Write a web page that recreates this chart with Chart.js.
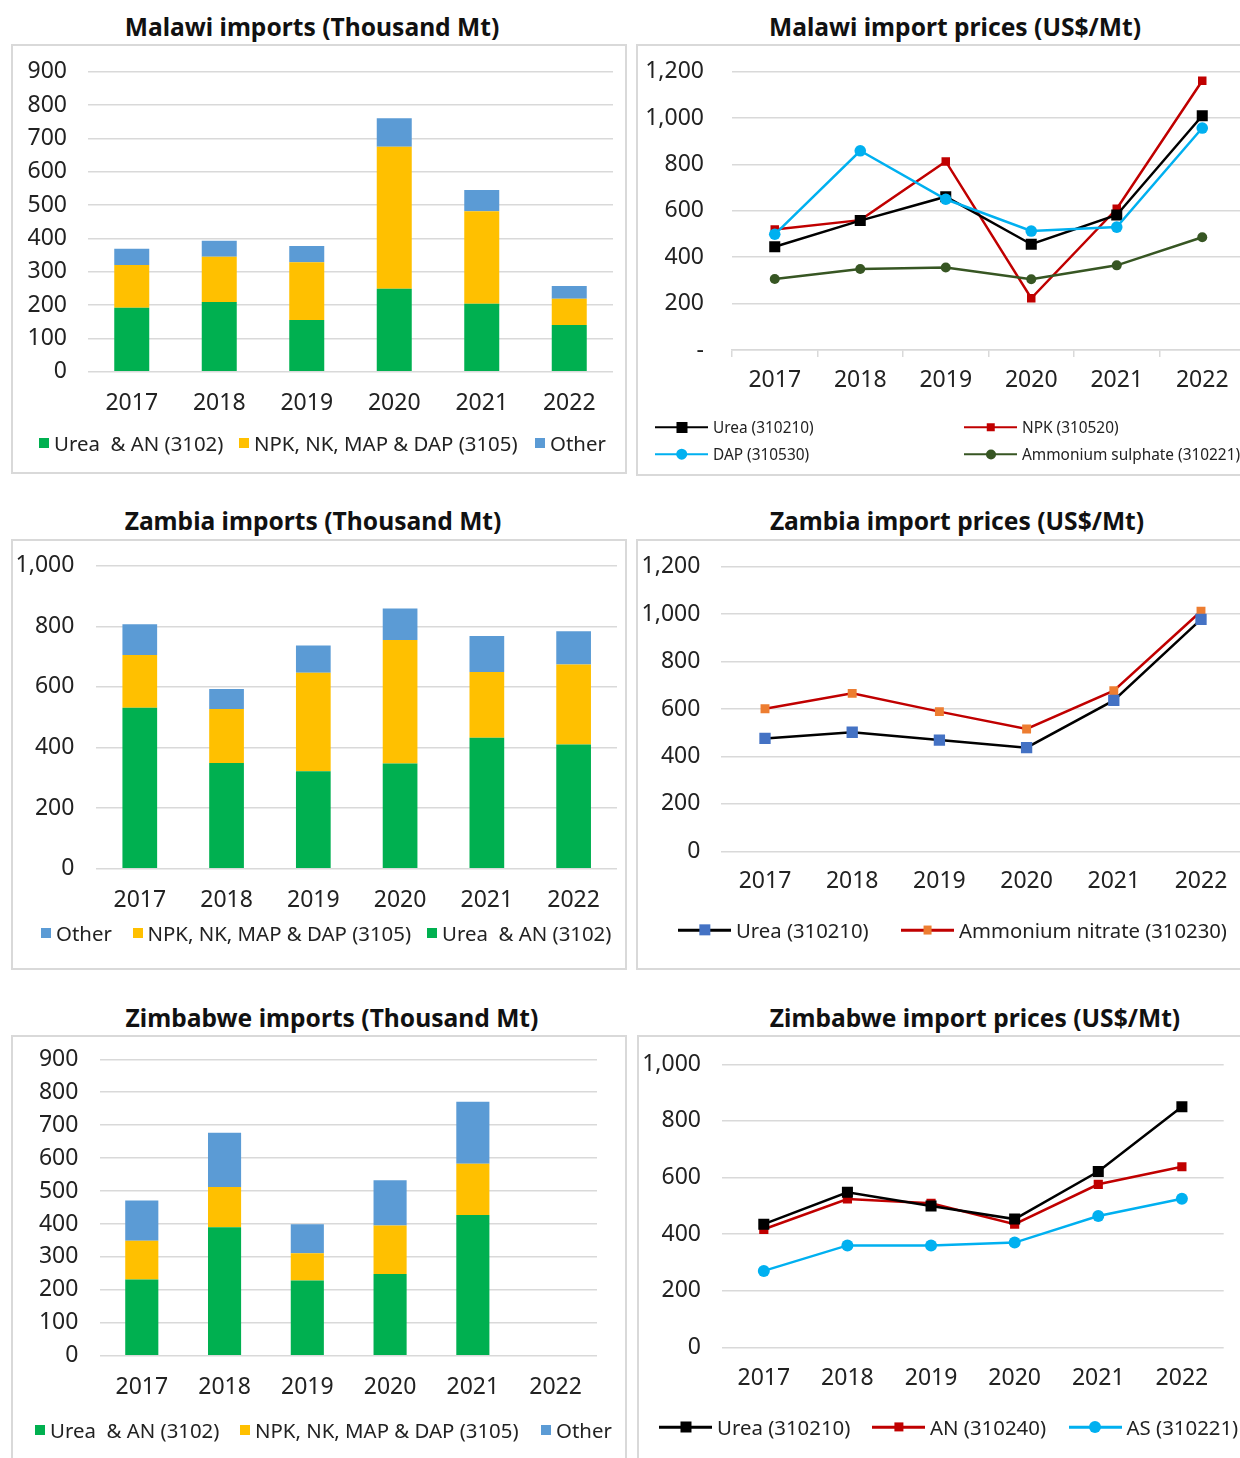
<!DOCTYPE html>
<html>
<head>
<meta charset="utf-8">
<script src="https://cdn.jsdelivr.net/npm/chart.js@4.4.1/dist/chart.umd.min.js"></script>
<style>
    body { margin: 0; width: 1240px; height: 1458px; overflow: hidden; background: #fff; position: relative; font-family: 'Noto Sans', sans-serif; color: #222; }
    .box { position: absolute; border: 2px solid #d9d9d9; box-sizing: border-box; background: #fff; }
    .title { position: absolute; font-weight: bold; font-size: 24.6px; white-space: nowrap; transform: translate(-50%, -50%); color: #111; }
    canvas { position: absolute; }
    .leg { position: absolute; display: flex; align-items: center; white-space: pre; transform: translateY(-50%); }
    .sq { width: 10px; height: 10px; margin-right: 5px; }
    .ln { position: relative; width: 53px; height: 14px; margin-right: 5px; }
    .ln .bar { position: absolute; left: 0; right: 0; top: 50%; height: 2.5px; transform: translateY(-50%); }
    .ln .mk { position: absolute; left: 50%; top: 50%; transform: translate(-50%, -50%); }
</style>
</head>
<body>

<div class="box" style="left:11px;top:44px;width:616px;height:430px"></div>
<div class="box" style="left:636px;top:44px;width:640px;height:432px"></div>
<div class="box" style="left:11px;top:539px;width:616px;height:431px"></div>
<div class="box" style="left:636px;top:539px;width:640px;height:431px"></div>
<div class="box" style="left:11px;top:1035px;width:616px;height:450px"></div>
<div class="box" style="left:637px;top:1035px;width:640px;height:450px"></div>

<div class="title" style="left:312px;top:26px">Malawi imports (Thousand Mt)</div>
<div class="title" style="left:955px;top:26px">Malawi import prices (US$/Mt)</div>
<div class="title" style="left:313px;top:520px">Zambia imports (Thousand Mt)</div>
<div class="title" style="left:957px;top:520px">Zambia import prices (US$/Mt)</div>
<div class="title" style="left:332px;top:1017px">Zimbabwe imports (Thousand Mt)</div>
<div class="title" style="left:975px;top:1017px">Zimbabwe import prices (US$/Mt)</div>

<canvas id="malawi-imports"></canvas>
<canvas id="malawi-prices"></canvas>
<canvas id="zambia-imports"></canvas>
<canvas id="zambia-prices"></canvas>
<canvas id="zim-imports"></canvas>
<canvas id="zim-prices"></canvas>

<script>
const years = ['2017', '2018', '2019', '2020', '2021', '2022'];

// Malawi imports (thousand Mt)
const malawiUrea = [192, 209, 155, 249, 204, 140];
const malawiNpk = [128, 136, 173, 426, 277, 79];
const malawiOther = [49, 48, 49, 85, 64, 38];

// Malawi import prices (US$/Mt)
const malawiUreaPrice = [445, 558, 661, 456, 582, 1010];
const malawiNpkPrice = [520, 560, 813, 223, 609, 1161];
const malawiDapPrice = [499, 859, 650, 513, 530, 957];
const malawiAsPrice = [306, 349, 356, 305, 365, 486];

// Zambia imports (thousand Mt)
const zambiaUrea = [531, 349, 322, 347, 432, 410];
const zambiaNpk = [174, 178, 325, 408, 217, 264];
const zambiaOther = [102, 66, 90, 104, 119, 110];

// Zambia import prices (US$/Mt)
const zambiaUreaPrice = [476, 502, 469, 437, 636, 978];
const zambiaAnPrice = [601, 666, 589, 516, 677, 1012];

// Zimbabwe imports (thousand Mt) - no 2022 data
const zimUrea = [231, 390, 228, 248, 427, null];
const zimNpk = [118, 122, 83, 147, 156, null];
const zimOther = [122, 165, 88, 138, 188, null];

// Zimbabwe import prices (US$/Mt)
const zimUreaPrice = [435, 548, 499, 453, 621, 850];
const zimAnPrice = [417, 524, 509, 435, 576, 638];
const zimAsPrice = [270, 360, 360, 370, 464, 525];

const GREEN = '#00b050', YELLOW = '#ffc000', BLUE = '#5b9bd5';
const GRID = '#d9d9d9', TEXT = '#222';
const FONT = 'Noto Sans';

function barSet(label, data, color) {
    return { label, data, backgroundColor: color, borderWidth: 0, categoryPercentage: 0.8, barPercentage: 0.5 };
}

function lineSet(label, data, lineColor, markColor, style, radius) {
    return {
        label, data,
        borderColor: lineColor, borderWidth: 2.5, tension: 0,
        pointStyle: style, pointRadius: radius, pointHoverRadius: radius,
        pointBackgroundColor: markColor, pointBorderColor: markColor, pointBorderWidth: 0
    };
}

// box = canvas rect on page, area = wanted plot area on page
function drawPanel(id, box, area, type, datasets, y, x) {
    const canvas = document.getElementById(id);
    canvas.width = box.w;
    canvas.height = box.h;
    canvas.style.left = box.x + 'px';
    canvas.style.top = box.y + 'px';

    const xHeight = 60;
    const tickFont = { family: FONT, size: 23 };

    return new Chart(canvas, {
        type: type,
        data: { labels: years, datasets: datasets },
        options: {
            responsive: false,
            animation: false,
            layout: {
                padding: {
                    left: 0,
                    top: area.y0 - box.y,
                    right: box.x + box.w - area.x1,
                    bottom: box.y + box.h - area.y1 - xHeight
                }
            },
            plugins: { legend: { display: false }, tooltip: { enabled: false } },
            scales: {
                x: {
                    stacked: type === 'bar',
                    offset: true,
                    grid: {
                        display: !!x.ticks,
                        drawOnChartArea: false,
                        drawTicks: !!x.ticks,
                        tickLength: 7,
                        offset: true,
                        color: GRID,
                        lineWidth: 1.5
                    },
                    border: { display: !!x.ticks, color: GRID, width: 1.5 },
                    ticks: { font: tickFont, color: TEXT, padding: x.pad, maxRotation: 0, autoSkip: false },
                    afterFit: s => { s.height = xHeight; s.paddingLeft = 0; s.paddingRight = 0; }
                },
                y: {
                    stacked: type === 'bar',
                    min: 0,
                    max: y.max,
                    grid: { color: GRID, lineWidth: 1.5, drawTicks: false },
                    border: { display: false },
                    ticks: {
                        stepSize: y.step,
                        font: tickFont,
                        color: TEXT,
                        padding: y.pad,
                        callback: v => (v === 0 && y.dash) ? '-' : v.toLocaleString('en-US')
                    },
                    afterFit: s => { s.width = area.x0 - box.x; s.paddingTop = 0; s.paddingBottom = 0; }
                }
            }
        }
    });
}

function legend(items, size) {
    items.forEach(it => {
        const d = document.createElement('div');
        d.className = 'leg';
        d.style.left = it.x + 'px';
        d.style.top = it.y + 'px';
        d.style.fontSize = size + 'px';
        const ds = it.ds;
        let key;
        if (ds.backgroundColor && !ds.borderColor) {
            key = `<span class="sq" style="background:${ds.backgroundColor}"></span>`;
        } else {
            const side = ds.pointStyle === 'rect' ? ds.pointRadius * Math.SQRT2 : ds.pointRadius * 2;
            const round = ds.pointStyle === 'circle' ? '50%' : '0';
            key = `<span class="ln"><span class="bar" style="background:${ds.borderColor}"></span>` +
                `<span class="mk" style="width:${side}px;height:${side}px;border-radius:${round};background:${ds.pointBackgroundColor}"></span></span>`;
        }
        d.innerHTML = key + `<span>${ds.label}</span>`;
        document.body.appendChild(d);
    });
}

//#region Malawi
const mwUreaBar = barSet('Urea  & AN (3102)', malawiUrea, GREEN);
const mwNpkBar = barSet('NPK, NK, MAP & DAP (3105)', malawiNpk, YELLOW);
const mwOtherBar = barSet('Other', malawiOther, BLUE);

drawPanel('malawi-imports',
    { x: 11, y: 44, w: 616, h: 430 },
    { x0: 88, x1: 613, y0: 71.7, y1: 371.7 },
    'bar', [mwUreaBar, mwNpkBar, mwOtherBar],
    { max: 900, step: 100, pad: 21 },
    { pad: 17.5 });

legend([
    { x: 39, y: 443, ds: mwUreaBar },
    { x: 239, y: 443, ds: mwNpkBar },
    { x: 535, y: 443, ds: mwOtherBar }
], 20.4);

const mwUreaLine = lineSet('Urea (310210)', malawiUreaPrice, '#000', '#000', 'rect', 7.8);
const mwNpkLine = lineSet('NPK (310520)', malawiNpkPrice, '#c00000', '#c00000', 'rect', 6);
const mwDapLine = lineSet('DAP (310530)', malawiDapPrice, '#00b0f0', '#00b0f0', 'circle', 5.8);
const mwAsLine = lineSet('Ammonium sulphate (310221)', malawiAsPrice, '#375623', '#375623', 'circle', 5);

drawPanel('malawi-prices',
    { x: 636, y: 44, w: 620, h: 432 },
    { x0: 732, x1: 1245, y0: 71.7, y1: 350 },
    'line', [mwAsLine, mwDapLine, mwUreaLine, mwNpkLine],
    { max: 1200, step: 200, pad: 28, dash: true },
    { pad: 9.5, ticks: true });

legend([
    { x: 655, y: 427, ds: mwUreaLine },
    { x: 964, y: 427, ds: mwNpkLine },
    { x: 655, y: 454, ds: mwDapLine },
    { x: 964, y: 454, ds: mwAsLine }
], 15.4);
//#endregion

//#region Zambia
const zmUreaBar = barSet('Urea  & AN (3102)', zambiaUrea, GREEN);
const zmNpkBar = barSet('NPK, NK, MAP & DAP (3105)', zambiaNpk, YELLOW);
const zmOtherBar = barSet('Other', zambiaOther, BLUE);

drawPanel('zambia-imports',
    { x: 11, y: 539, w: 616, h: 431 },
    { x0: 96.4, x1: 617, y0: 565.7, y1: 868.7 },
    'bar', [zmUreaBar, zmNpkBar, zmOtherBar],
    { max: 1000, step: 200, pad: 22 },
    { pad: 17.5 });

legend([
    { x: 41, y: 933, ds: zmOtherBar },
    { x: 132.5, y: 933, ds: zmNpkBar },
    { x: 427, y: 933, ds: zmUreaBar }
], 20.4);

const zmUreaLine = lineSet('Urea (310210)', zambiaUreaPrice, '#000', '#4472c4', 'rect', 8);
const zmAnLine = lineSet('Ammonium nitrate (310230)', zambiaAnPrice, '#c00000', '#ed7d31', 'rect', 6.3);

drawPanel('zambia-prices',
    { x: 636, y: 539, w: 620, h: 431 },
    { x0: 721.4, x1: 1244.6, y0: 566.7, y1: 851.3 },
    'line', [zmUreaLine, zmAnLine],
    { max: 1200, step: 200, pad: 21 },
    { pad: 16.5 });

legend([
    { x: 678, y: 930, ds: zmUreaLine },
    { x: 901, y: 930, ds: zmAnLine }
], 20.3);
//#endregion

//#region Zimbabwe
const zwUreaBar = barSet('Urea  & AN (3102)', zimUrea, GREEN);
const zwNpkBar = barSet('NPK, NK, MAP & DAP (3105)', zimNpk, YELLOW);
const zwOtherBar = barSet('Other', zimOther, BLUE);

drawPanel('zim-imports',
    { x: 11, y: 1035, w: 616, h: 423 },
    { x0: 100.4, x1: 597, y0: 1059.3, y1: 1355.7 },
    'bar', [zwUreaBar, zwNpkBar, zwOtherBar],
    { max: 900, step: 100, pad: 22 },
    { pad: 17.5 });

legend([
    { x: 35, y: 1430, ds: zwUreaBar },
    { x: 240, y: 1430, ds: zwNpkBar },
    { x: 541, y: 1430, ds: zwOtherBar }
], 20.4);

const zwUreaLine = lineSet('Urea (310210)', zimUreaPrice, '#000', '#000', 'rect', 7.8);
const zwAnLine = lineSet('AN (310240)', zimAnPrice, '#c00000', '#c00000', 'rect', 6.5);
const zwAsLine = lineSet('AS (310221)', zimAsPrice, '#00b0f0', '#00b0f0', 'circle', 6);

drawPanel('zim-prices',
    { x: 637, y: 1035, w: 610, h: 423 },
    { x0: 722, x1: 1223.7, y0: 1064.3, y1: 1347.3 },
    'line', [zwUreaLine, zwAnLine, zwAsLine],
    { max: 1000, step: 200, pad: 21 },
    { pad: 17.5 });

legend([
    { x: 659, y: 1427, ds: zwUreaLine },
    { x: 872, y: 1427, ds: zwAnLine },
    { x: 1068.5, y: 1427, ds: zwAsLine }
], 20.4);
//#endregion
</script>
</body>
</html>
